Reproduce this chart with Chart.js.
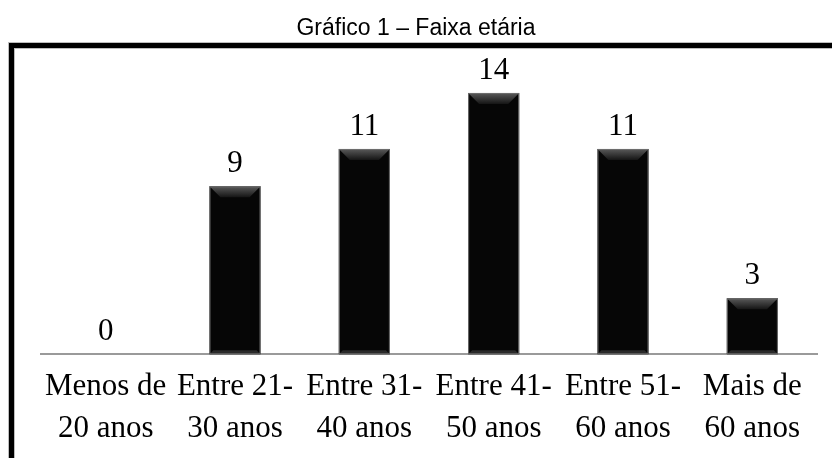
<!DOCTYPE html>
<html lang="pt">
<head>
<meta charset="utf-8">
<title>Gráfico 1 – Faixa etária</title>
<script src="https://cdn.jsdelivr.net/npm/chart.js@4/dist/chart.umd.min.js"></script>
<style>
  html, body { margin: 0; padding: 0; background: #fff; }
  #wrap { width: 832px; height: 458px; }
</style>
</head>
<body>
<div id="wrap"><canvas id="faixa-chart"></canvas></div>
<script>
const categories = [
  ['Menos de', '20 anos'],
  ['Entre 21-', '30 anos'],
  ['Entre 31-', '40 anos'],
  ['Entre 41-', '50 anos'],
  ['Entre 51-', '60 anos'],
  ['Mais de', '60 anos']
];
const respondents = [0, 9, 11, 14, 11, 3];
const chartTitle = 'Gráfico 1 – Faixa etária';

document.addEventListener('DOMContentLoaded', function() {
  const ctx = document.getElementById('faixa-chart').getContext('2d');

  // black frame (left + top edge), like the boxed chart in the document
  const framePlugin = {
    id: 'frame',
    afterDraw(chart) {
      const c = chart.ctx;
      c.save();
      c.strokeStyle = '#bdbdbd';
      c.lineWidth = 7;
      c.beginPath();
      c.moveTo(11.5, 470);
      c.lineTo(11.5, 45.5);
      c.lineTo(850, 45.5);
      c.stroke();
      c.strokeStyle = '#000';
      c.lineWidth = 5;
      c.stroke();
      c.restore();
    }
  };

  // bevel on top of each bar + value labels
  const barExtras = {
    id: 'barExtras',
    afterDatasetsDraw(chart) {
      const c = chart.ctx;
      const meta = chart.getDatasetMeta(0);
      meta.data.forEach(function(bar, i) {
        const left = bar.x - bar.width / 2;
        const right = bar.x + bar.width / 2;
        const h = bar.base - bar.y;
        c.save();
        if (h > 0) {
          const bev = Math.min(11, h / 2);
          const grad = c.createLinearGradient(0, bar.y, 0, bar.y + bev);
          grad.addColorStop(0, '#5a5a5a');
          grad.addColorStop(1, '#151515');
          c.fillStyle = grad;
          c.beginPath();
          c.moveTo(left, bar.y);
          c.lineTo(right, bar.y);
          c.lineTo(right - bev, bar.y + bev);
          c.lineTo(left + bev, bar.y + bev);
          c.closePath();
          c.fill();
          // bottom bevel
          c.fillStyle = '#2a2a2a';
          c.beginPath();
          c.moveTo(left, bar.base);
          c.lineTo(right, bar.base);
          c.lineTo(right - 4, bar.base - 4);
          c.lineTo(left + 4, bar.base - 4);
          c.closePath();
          c.fill();
          c.strokeStyle = '#6e6e6e';
          c.lineWidth = 1;
          c.strokeRect(left + 0.5, bar.y + 0.5, bar.width - 1, h - 1);
        }
        c.fillStyle = '#000';
        c.font = '31px "Liberation Serif", "Times New Roman", serif';
        c.textAlign = 'center';
        c.textBaseline = 'alphabetic';
        c.fillText(String(respondents[i]), bar.x, bar.y - 14);
        c.restore();
      });
    }
  };

  new Chart(ctx, {
    type: 'bar',
    data: {
      labels: categories,
      datasets: [{
        label: 'Respondentes',
        data: respondents,
        backgroundColor: '#060606',
        borderWidth: 0,
        barPercentage: 0.395,
        categoryPercentage: 1
      }]
    },
    options: {
      responsive: true,
      maintainAspectRatio: false,
      animation: false,
      layout: {
        padding: { left: 15, right: 15, top: 0, bottom: -4 }
      },
      plugins: {
        legend: { display: false },
        tooltip: { enabled: false },
        title: {
          display: true,
          text: chartTitle,
          color: '#000',
          font: { family: '"Liberation Sans", Arial, sans-serif', size: 23, weight: 'normal', lineHeight: 1.2 },
          padding: { top: 15, bottom: 13 }
        }
      },
      scales: {
        x: {
          grid: { display: false, drawTicks: false },
          border: { display: true, color: '#9a9a9a', width: 2 },
          ticks: {
            color: '#000',
            padding: 12,
            maxRotation: 0,
            autoSkip: false,
            font: { family: '"Liberation Serif", "Times New Roman", serif', size: 31, lineHeight: 1.35 }
          }
        },
        y: {
          // hidden axis, only used to keep the left margin of the plot
          display: true,
          min: 0,
          max: 16,
          grid: { display: false, drawTicks: false },
          border: { display: false },
          ticks: { display: false },
          afterFit(scale) {
            scale.width = 26;
          }
        }
      }
    },
    plugins: [framePlugin, barExtras]
  });
});
</script>
</body>
</html>
